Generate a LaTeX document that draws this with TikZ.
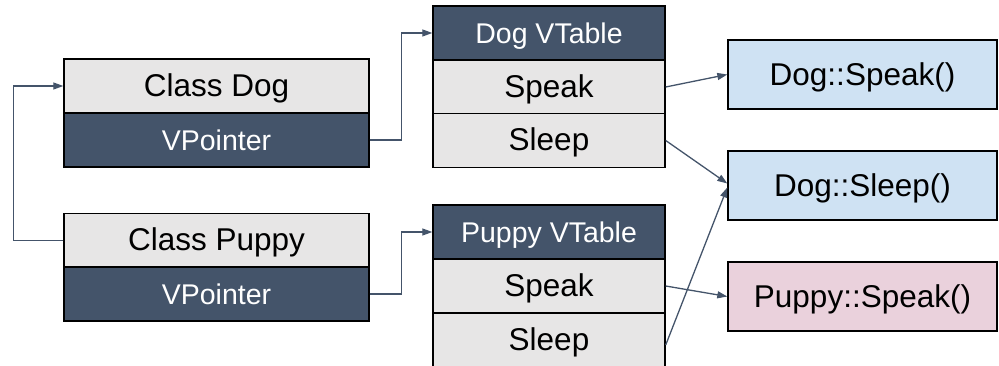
\documentclass[tikz,border=0pt]{standalone}
\usepackage{fontspec}
\setmainfont{Liberation Sans}
\usetikzlibrary{arrows.meta}
\definecolor{slate}{HTML}{44546A}
\definecolor{cellgray}{HTML}{E7E6E6}
\definecolor{fnblue}{HTML}{CFE2F3}
\definecolor{fnpink}{HTML}{EAD1DC}
\begin{document}
\begin{tikzpicture}[x=1pt,y=-1pt,
  cell/.style={draw=black, line width=1.4pt, rectangle, inner sep=0pt, anchor=center,
    text depth=0pt},
  lightcell/.style={cell, fill=cellgray, text=black, font=\fontsize{31.5}{36}\selectfont,
    text height=20.8pt},
  darkcell/.style={cell, fill=slate, text=white, font=\fontsize{28.5}{34}\selectfont,
    text height=20.5pt},
  classcell/.style={minimum width=305pt, minimum height=54pt},
  tablecell/.style={minimum width=232pt, minimum height=54pt},
  fnbox/.style={cell, minimum width=269pt, minimum height=69pt, font=\fontsize{31.5}{36}\selectfont,
    text height=22.7pt},
  link/.style={draw=slate, line width=1.3pt, -{Triangle[length=10pt,width=7pt]}}
]
\useasboundingbox (0,0) rectangle (999,366);

% class objects
\node[lightcell, classcell] (dogcls) at (216.5,86) {Class Dog};
\node[darkcell, classcell] (dogvp) at (216.5,140) {VPointer};
\node[lightcell, classcell] (pupcls) at (216.5,240.5) {Class Puppy};
\node[darkcell, classcell] (pupvp) at (216.5,294) {VPointer};

% vtables
\node[darkcell, tablecell] (dogvt) at (549,33) {Dog VTable};
\node[lightcell, tablecell] (dogspeak) at (549,87) {Speak};
\node[lightcell, tablecell] (dogsleep) at (549,140.5) {Sleep};
\node[darkcell, tablecell] (pupvt) at (549,232) {Puppy VTable};
\node[lightcell, tablecell] (pupspeak) at (549,286) {Speak};
\node[lightcell, tablecell] (pupsleep) at (549,340) {Sleep};

% method implementations
\node[fnbox, fill=fnblue] (dogspeakfn) at (862.5,74.5) {Dog::Speak()};
\node[fnbox, fill=fnblue] (dogsleepfn) at (862.5,185.5) {Dog::Sleep()};
\node[fnbox, fill=fnpink] (pupspeakfn) at (862.5,296.5) {Puppy::Speak()};

% inheritance link
\draw[link] (pupcls.west) -- ++(-50,0) |- (dogcls.west);

% vpointers to vtables
\draw[link] (dogvp.east) -- ++(32,0) |- (dogvt.west);
\draw[link] (pupvp.east) -- ++(32,0) |- (pupvt.west);

% vtable entries to implementations
\draw[link] (dogspeak.east) -- (dogspeakfn.west);
\draw[link] (dogsleep.east) -- ([yshift=2pt]dogsleepfn.west);
\draw[link] (pupspeak.east) -- (pupspeakfn.west);
\draw[link] ([yshift=-5pt]pupsleep.east) -- ([yshift=-2pt]dogsleepfn.west);
\end{tikzpicture}
\end{document}
